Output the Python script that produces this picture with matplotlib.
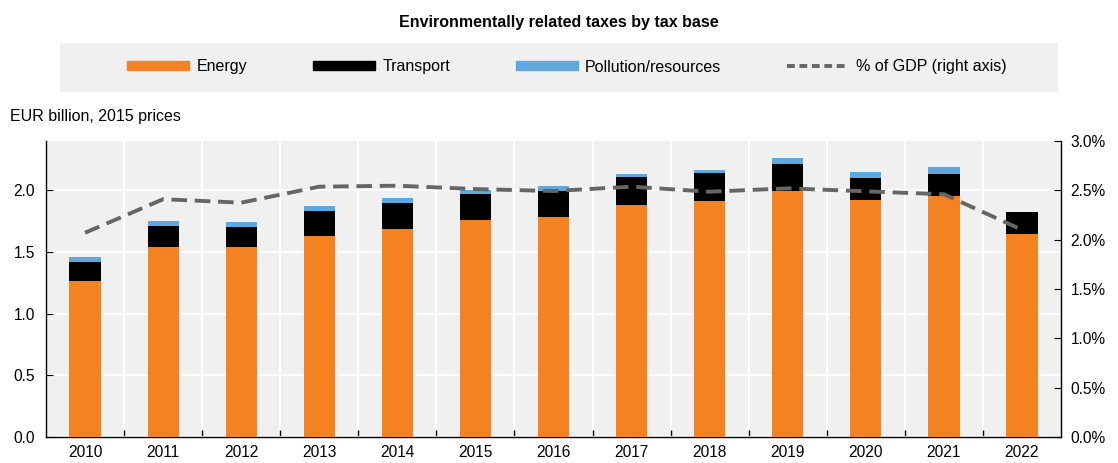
import numpy as np
import matplotlib.pyplot as plt
from matplotlib.patches import Rectangle

years = ["2010", "2011", "2012", "2013", "2014", "2015", "2016",
         "2017", "2018", "2019", "2020", "2021", "2022"]
energy = [1.263, 1.541, 1.541, 1.633, 1.688, 1.762, 1.781, 1.881, 1.911, 1.995, 1.919, 1.951, 1.646]
transport = [0.154, 0.170, 0.165, 0.200, 0.213, 0.206, 0.214, 0.224, 0.229, 0.218, 0.184, 0.184, 0.176]
pollution = [0.040, 0.038, 0.038, 0.040, 0.034, 0.038, 0.037, 0.030, 0.027, 0.052, 0.047, 0.055, 0.0]
gdp_pct = [2.07, 2.41, 2.375, 2.537, 2.547, 2.513, 2.493, 2.537, 2.486, 2.52, 2.49, 2.46, 2.10]

plt.rcParams['font.family'] = ['Liberation Sans', 'DejaVu Sans']

orange = "#F48221"
blue = "#5DA9DD"
grey_bg = "#F0F0F0"

fig = plt.figure(figsize=(11.18, 4.63), dpi=100)
ax = fig.add_axes([46/1118, 26/463, (1061-46)/1118, (437-141)/463])
ax.set_facecolor(grey_bg)

x = np.arange(len(years))
w = 0.4
bottom2 = np.array(energy) + np.array(transport)
ax.bar(x, energy, w, color=orange, zorder=3)
ax.bar(x, transport, w, bottom=energy, color="black", zorder=3)
ax.bar(x, pollution, w, bottom=bottom2, color=blue, zorder=3)

ax.set_xlim(-0.5, len(years) - 0.5)
ax.set_ylim(0, 2.4)
ax.set_yticks([0, 0.5, 1.0, 1.5, 2.0])
ax.set_yticklabels(["0.0", "0.5", "1.0", "1.5", "2.0"])
ax.set_xticks(x)
ax.set_xticklabels(years)
ax.set_xticks(x[:-1] + 0.5, minor=True)

# white grid, vertical lines sit between the years
ax.grid(axis="y", color="white", linewidth=1.5, zorder=0)
for xb in x[:-1] + 0.5:
    ax.axvline(xb, color="white", linewidth=1.5, zorder=0)

ax.tick_params(axis="x", which="major", length=0, labelsize=11.2, pad=6)
ax.tick_params(axis="x", which="minor", direction="in", length=5, width=1)
ax.tick_params(axis="y", direction="in", length=5, labelsize=11.2, pad=8)
for s in ["top", "right"]:
    ax.spines[s].set_visible(False)
ax.spines["left"].set_linewidth(1)
ax.spines["bottom"].set_linewidth(1)

ax2 = ax.twinx()
ax2.plot(x, gdp_pct, color="#666666", linewidth=2.8, dashes=(4, 2), zorder=5)
ax2.set_ylim(0, 3.0)
ax2.set_yticks([0, 0.5, 1.0, 1.5, 2.0, 2.5, 3.0])
ax2.set_yticklabels(["0.0%", "0.5%", "1.0%", "1.5%", "2.0%", "2.5%", "3.0%"])
ax2.tick_params(axis="y", direction="in", length=5, labelsize=11.2, pad=7)
for s in ["top", "left", "bottom"]:
    ax2.spines[s].set_visible(False)
ax2.spines["right"].set_linewidth(1)

fig.text(0.5, 1 - 22/463, "Environmentally related taxes by tax base",
         ha="center", va="center", fontsize=11.5, fontweight="bold")
fig.text(10/1118, 1 - 117/463, "EUR billion, 2015 prices",
         ha="left", va="center", fontsize=11.5)

# legend on a grey band
fig.patches.append(Rectangle((60/1118, 1 - 92/463), 998/1118, 49/463,
                             transform=fig.transFigure, facecolor=grey_bg,
                             edgecolor="none", zorder=0))
handles = [Rectangle((0, 0), 1, 1, color=orange),
           Rectangle((0, 0), 1, 1, color="black"),
           Rectangle((0, 0), 1, 1, color=blue),
           plt.Line2D([0], [0], color="#666666", linewidth=2.8, dashes=(2, 1.2))]
labels = ["Energy", "Transport", "Pollution/resources", "% of GDP (right axis)"]
fig.legend(handles, labels, loc="center", bbox_to_anchor=(567/1118, 1 - 67/463),
           ncol=4, frameon=False, fontsize=11.5, handlelength=3.9, handleheight=0.5,
           handletextpad=0.45, columnspacing=4.1)

fig.savefig("out.png", dpi=100)
